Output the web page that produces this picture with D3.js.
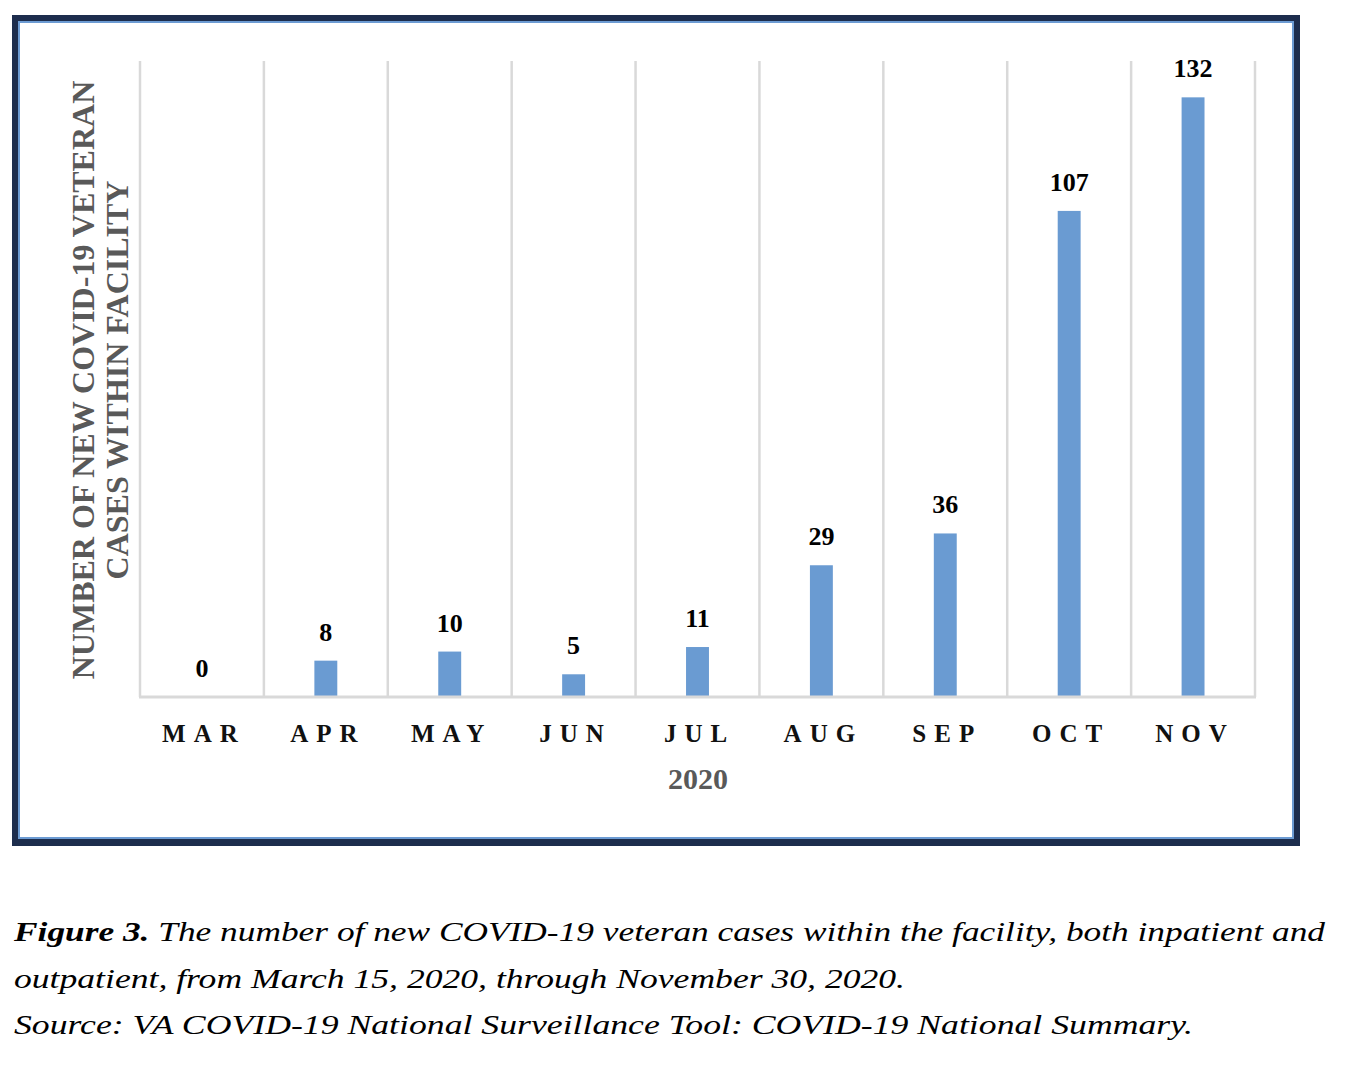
<!DOCTYPE html>
<html>
<head>
<meta charset="utf-8">
<script src="https://cdn.jsdelivr.net/npm/d3@7"></script>
<style>
  body { margin: 0; background: #fff; }
  text { font-family: "Liberation Serif", "Times New Roman", "DejaVu Serif", serif; }
</style>
</head>
<body>
<div id="chart"></div>
<script>
// months and new cases per month
var months = ["MAR", "APR", "MAY", "JUN", "JUL", "AUG", "SEP", "OCT", "NOV"];
var cases = [0, 8, 10, 5, 11, 29, 36, 107, 132];
var yMax = 140;
var yTitle = ["NUMBER OF NEW COVID-19 VETERAN", "CASES WITHIN FACILITY"];
var xTitle = "2020";
var captionLines = [
  ["Figure 3.", " The number of new COVID-19 veteran cases within the facility, both inpatient and"],
  ["", "outpatient, from March 15, 2020, through November 30, 2020."],
  ["", "Source: VA COVID-19 National Surveillance Tool: COVID-19 National Summary."]
];
// caption line widths as they appear in the figure (the text is set wide)
var captionWidths = [1311, 891, 1179];

var svg = d3.select("#chart")
  .append("svg")
  .attr("width", 1362)
  .attr("height", 1090);

svg.append("rect").attr("width", 1362).attr("height", 1090).attr("fill", "#fff");

// frame: dark outer, thin light blue inner, white inside
svg.append("rect").attr("x", 12).attr("y", 15).attr("width", 1288).attr("height", 831).attr("fill", "#1d2d4d");
svg.append("rect").attr("x", 18).attr("y", 21).attr("width", 1276).attr("height", 818).attr("fill", "#6c9bd3");
svg.append("rect").attr("x", 20).attr("y", 23).attr("width", 1272).attr("height", 814).attr("fill", "#fff");

var x = d3.scaleBand()
  .domain(months)
  .range([140, 1255])
  .paddingInner(0)
  .paddingOuter(0);

var y = d3.scaleLinear().domain([0, yMax]).range([697, 61]);

var barW = x.bandwidth() * 0.185;

// vertical gridlines at category boundaries
var edges = months.map(function (d) { return x(d); }).concat([x.range()[1]]);
svg.append("g")
  .selectAll("line")
  .data(edges)
  .enter()
  .append("line")
  .attr("x1", function (d) { return d; })
  .attr("x2", function (d) { return d; })
  .attr("y1", y(yMax))
  .attr("y2", y(0))
  .attr("stroke", "#d9d9d9")
  .attr("stroke-width", 2.5);

// bars
svg.append("g")
  .selectAll("rect")
  .data(cases)
  .enter()
  .append("rect")
  .attr("x", function (d, i) { return x(months[i]) + (x.bandwidth() - barW) / 2; })
  .attr("y", function (d) { return y(d); })
  .attr("width", barW)
  .attr("height", function (d) { return y(0) - y(d); })
  .attr("fill", "#6a9bd2");

// baseline
svg.append("line")
  .attr("x1", x.range()[0] - 1)
  .attr("x2", x.range()[1] + 1)
  .attr("y1", y(0))
  .attr("y2", y(0))
  .attr("stroke", "#d9d9d9")
  .attr("stroke-width", 3);

// value labels
svg.append("g")
  .selectAll("text")
  .data(cases)
  .enter()
  .append("text")
  .attr("x", function (d, i) { return x(months[i]) + x.bandwidth() / 2; })
  .attr("y", function (d) { return y(d) - 20; })
  .attr("text-anchor", "middle")
  .style("font-size", "26px")
  .style("font-weight", "bold")
  .style("fill", "#000")
  .text(function (d) { return d; });

// month labels, spaced out
var spacing = 8;
svg.append("g")
  .selectAll("text")
  .data(months)
  .enter()
  .append("text")
  .attr("x", function (d) { return x(d) + x.bandwidth() / 2 + spacing / 2 - 2; })
  .attr("y", 742)
  .attr("text-anchor", "middle")
  .attr("letter-spacing", spacing)
  .style("font-size", "25px")
  .style("font-weight", "bold")
  .style("fill", "#111")
  .text(function (d) { return d; });

svg.append("text")
  .attr("x", 698)
  .attr("y", 789)
  .attr("text-anchor", "middle")
  .style("font-size", "30px")
  .style("font-weight", "bold")
  .style("fill", "#595959")
  .text(xTitle);

// y axis title, two lines
svg.append("g")
  .attr("transform", "translate(94,380) rotate(-90)")
  .selectAll("text")
  .data(yTitle)
  .enter()
  .append("text")
  .attr("x", 0)
  .attr("y", function (d, i) { return i * 34; })
  .attr("text-anchor", "middle")
  .style("font-size", "32px")
  .style("font-weight", "bold")
  .style("fill", "#595959")
  .text(function (d) { return d; });

// caption
var cap = svg.append("g");
captionLines.forEach(function (line, i) {
  var t = cap.append("text")
    .attr("x", 14)
    .attr("y", 941 + i * 46.5)
    .attr("textLength", captionWidths[i])
    .attr("lengthAdjust", "spacingAndGlyphs")
    .style("font-size", "28px")
    .style("font-style", "italic")
    .style("fill", "#000");
  if (line[0]) {
    t.append("tspan").style("font-weight", "bold").text(line[0]);
  }
  t.append("tspan").text(line[1]);
});
</script>
</body>
</html>
